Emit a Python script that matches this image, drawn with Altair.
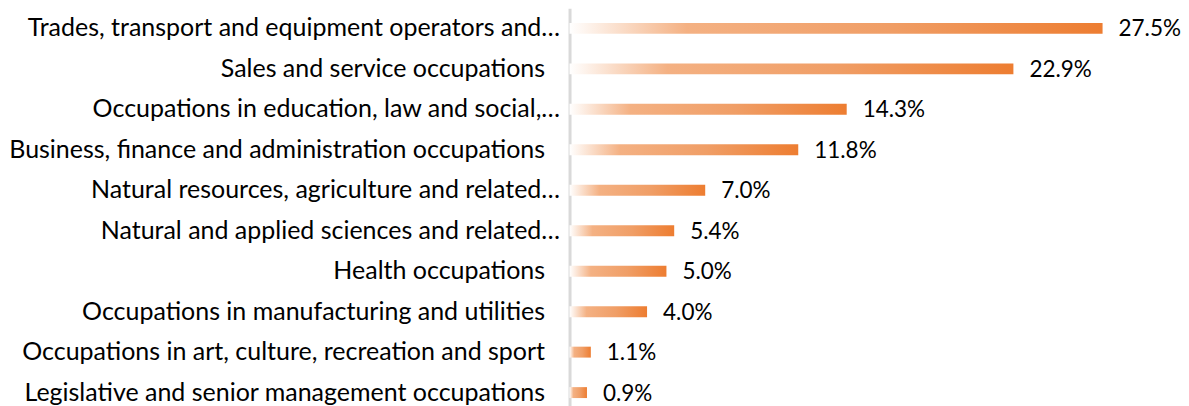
import altair as alt
import pandas as pd

categories = [
    "Trades, transport and equipment operators and…",
    "Sales and service occupations",
    "Occupations in education, law and social,…",
    "Business, finance and administration occupations",
    "Natural resources, agriculture and related…",
    "Natural and applied sciences and related…",
    "Health occupations",
    "Occupations in manufacturing and utilities",
    "Occupations in art, culture, recreation and sport",
    "Legislative and senior management occupations",
]
values = [27.5, 22.9, 14.3, 11.8, 7.0, 5.4, 5.0, 4.0, 1.1, 0.9]
labels = ["27.5%", "22.9%", "14.3%", "11.8%", "7.0%", "5.4%", "5.0%", "4.0%", "1.1%", "0.9%"]

df = pd.DataFrame({"cat": categories, "val": values, "lab": labels})

FONT = "Lato"

grad = alt.Gradient(
    gradient="linear",
    x1=0, x2=1, y1=0, y2=0,
    stops=[
        alt.GradientStop(color="#FFFFFF", offset=0),
        alt.GradientStop(color="#F4B183", offset=0.22),
        alt.GradientStop(color="#F09E66", offset=0.6),
        alt.GradientStop(color="#ED7D31", offset=1),
    ],
)

y_enc = alt.Y(
    "cat:N",
    sort=categories,
    title=None,
    scale=alt.Scale(paddingInner=0.73, paddingOuter=0.365),
    axis=alt.Axis(
        ticks=False,
        labelFont=FONT,
        labelFontSize=25,
        labelColor="#000000",
        labelPadding={"condition": {"test": "indexof(datum.label, '…') >= 0", "value": 10}, "value": 25},
        labelLimit=700,
        domainColor="#D9D9D9",
        domainWidth=3,
        minExtent=560,
        maxExtent=560,
        grid=False,
    ),
)

x_enc = alt.X(
    "val:Q",
    scale=alt.Scale(domain=[0, 30], nice=False),
    axis=None,
)

bars = alt.Chart(df).mark_bar(color=grad).encode(x=x_enc, y=y_enc)

text = alt.Chart(df).mark_text(
    align="left", baseline="middle", dx=16, dy=1, font=FONT, fontSize=22.5, color="#000000"
).encode(x=x_enc, y=y_enc, text="lab:N")

chart = (
    alt.layer(bars, text)
    .properties(
        width=582,
        height=405,
        background="#FFFFFF",
        padding={"left": 0, "top": 0, "right": 0, "bottom": 0},
    )
    .configure_view(stroke="transparent", strokeWidth=0)
)

chart.save("out.html", embed_options={"renderer": "svg", "actions": False})
